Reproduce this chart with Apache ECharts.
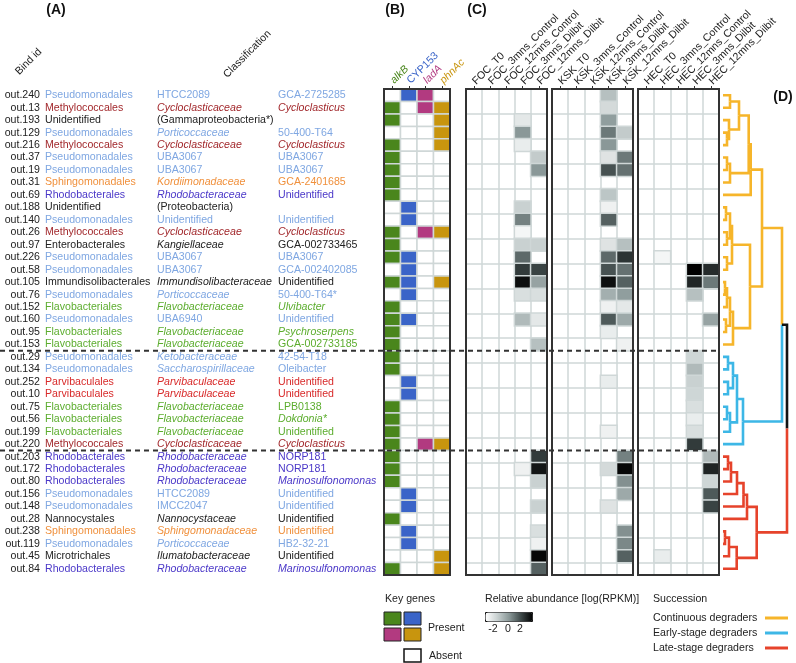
<!DOCTYPE html>
<html>
<head>
<meta charset="utf-8">
<title>Key genes, abundance and succession of MAGs</title>
<script src="https://cdn.jsdelivr.net/npm/echarts@6/dist/echarts.min.js"></script>
<style>
  html, body { margin: 0; padding: 0; background: #fff; }
  #chart { width: 796px; height: 663px; }
</style>
</head>
<body>
<div id="chart"></div>
<script>
// ---- data (rows top to bottom) ----
const binIds = ['out.240','out.13','out.193','out.129','out.216','out.37','out.19','out.31','out.69','out.188',
  'out.140','out.26','out.97','out.226','out.58','out.105','out.76','out.152','out.160','out.95','out.153',
  'out.29','out.134','out.252','out.10','out.75','out.56','out.199','out.220',
  'out.203','out.172','out.80','out.156','out.148','out.28','out.238','out.119','out.45','out.84']

const orders = ['Pseudomonadales','Methylococcales','Unidentified','Pseudomonadales','Methylococcales',
  'Pseudomonadales','Pseudomonadales','Sphingomonadales','Rhodobacterales','Unidentified','Pseudomonadales',
  'Methylococcales','Enterobacterales','Pseudomonadales','Pseudomonadales','Immundisolibacterales',
  'Pseudomonadales','Flavobacteriales','Pseudomonadales','Flavobacteriales','Flavobacteriales',
  'Pseudomonadales','Pseudomonadales','Parvibaculales','Parvibaculales','Flavobacteriales','Flavobacteriales',
  'Flavobacteriales','Methylococcales','Rhodobacterales','Rhodobacterales','Rhodobacterales','Pseudomonadales',
  'Pseudomonadales','Nannocystales','Sphingomonadales','Pseudomonadales','Microtrichales','Rhodobacterales']

const families = ['HTCC2089','Cycloclasticaceae','(Gammaproteobacteria*)','Porticoccaceae','Cycloclasticaceae',
  'UBA3067','UBA3067','Kordiimonadaceae','Rhodobacteraceae','(Proteobacteria)','Unidentified','Cycloclasticaceae',
  'Kangiellaceae','UBA3067','UBA3067','Immundisolibacteraceae','Porticoccaceae','Flavobacteriaceae','UBA6940',
  'Flavobacteriaceae','Flavobacteriaceae','Ketobacteraceae','Saccharospirillaceae','Parvibaculaceae',
  'Parvibaculaceae','Flavobacteriaceae','Flavobacteriaceae','Flavobacteriaceae','Cycloclasticaceae',
  'Rhodobacteraceae','Rhodobacteraceae','Rhodobacteraceae','HTCC2089','IMCC2047','Nannocystaceae',
  'Sphingomonadaceae','Porticoccaceae','Ilumatobacteraceae','Rhodobacteraceae']

const genera = ['GCA-2725285','Cycloclasticus','','50-400-T64','Cycloclasticus','UBA3067','UBA3067',
  'GCA-2401685','Unidentified','','Unidentified','Cycloclasticus','GCA-002733465','UBA3067','GCA-002402085',
  'Unidentified','50-400-T64*','Ulvibacter','Unidentified','Psychroserpens','GCA-002733185','42-54-T18',
  'Oleibacter','Unidentified','Unidentified','LPB0138','Dokdonia*','Unidentified','Cycloclasticus',
  'NORP181','NORP181','Marinosulfonomonas','Unidentified','Unidentified','Unidentified','Unidentified',
  'HB2-32-21','Unidentified','Marinosulfonomonas']

const italicGenera = ['Cycloclasticus','Ulvibacter','Psychroserpens','Dokdonia*','Marinosulfonomonas']

// key genes, 1 = present
const geneNames = ['alkB','CYP153','ladA','phnAc']
const alkB   = [0,1,1,0,1,1,1,1,1,0, 0,1,1,1,0,1,0,1,1,1, 1,1,1,0,0,1,1,1,1,1, 1,1,0,0,1,0,0,0,1]
const CYP153 = [1,0,0,0,0,0,0,0,0,1, 1,0,0,1,1,1,1,0,1,0, 0,0,0,1,1,0,0,0,0,0, 0,0,1,1,0,1,1,0,0]
const ladA   = [1,1,0,0,0,0,0,0,0,0, 0,1,0,0,0,0,0,0,0,0, 0,0,0,0,0,0,0,0,1,0, 0,0,0,0,0,0,0,0,0]
const phnAc  = [0,1,1,1,1,0,0,0,0,0, 0,1,0,0,0,1,0,0,0,0, 0,0,0,0,0,0,0,0,1,0, 0,0,0,0,0,0,0,1,1]

// relative abundance log(RPKM), sparse [row, sample, value]; blank cells not listed
const treatments = ['T0','3mns_Control','12mns_Control','3mns_Dilbit','12mns_Dilbit']
const sites = ['FOC','KSK','HEC']
const focValues = [[2,3,-1.5],[3,3,0],[4,3,-1.6],[5,4,-0.9],[6,4,0],[9,3,-1.0],[10,3,0.3],[11,3,-1.8],
  [12,3,-1.0],[12,4,-1.0],[13,3,0.6],[14,3,1.2],[14,4,1.1],[15,3,1.8],[15,4,-0.2],[16,3,-1.3],[16,4,-1.3],
  [18,3,-0.6],[18,4,-1.5],[20,4,-0.7],[29,4,1.2],[30,3,-1.7],[30,4,1.7],[31,4,-1.0],[33,4,-1.0],
  [35,4,-1.3],[36,4,-1.7],[37,4,1.9],[38,4,0.7]]
const kskValues = [[0,3,-0.7],[1,3,-1.2],[2,3,-0.1],[3,3,0.4],[3,4,-0.9],[4,3,0],[5,3,-1.4],[5,4,0.4],
  [6,3,0.9],[6,4,0.5],[8,3,-0.8],[9,3,-1.7],[10,3,0.7],[12,3,-1.4],[12,4,-0.7],[13,3,0.6],[13,4,1.3],
  [14,3,0.9],[14,4,0.5],[15,3,1.8],[15,4,0.7],[16,3,-0.4],[16,4,-0.1],[17,3,-1.7],[17,4,-1.5],[18,3,0.8],
  [18,4,-0.3],[19,3,-1.6],[20,4,-1.7],[23,3,-1.6],[27,3,-1.7],[29,4,0.3],[30,3,-1.2],[30,4,1.9],
  [31,4,0.1],[32,4,-0.3],[33,3,-1.4],[35,4,0.1],[36,4,0.2],[37,4,0.7]]
const hecValues = [[13,1,-1.8],[14,3,2.0],[14,4,1.4],[15,3,1.5],[15,4,0.4],[16,3,-0.7],[18,4,-0.2],
  [21,3,-1.1],[22,3,-0.6],[23,3,-1.0],[24,3,-1.1],[25,3,-1.3],[26,3,-1.6],[27,3,-1.3],[28,3,1.2],
  [29,4,-0.6],[30,4,1.5],[31,4,-1.1],[32,4,0.8],[33,4,1.1],[37,1,-1.6]]

// succession group per row: 0 continuous, 1 early-stage, 2 late-stage
const succession = [0,0,0,0,0,0,0,0,0,0, 0,0,0,0,0,0,0,0,0,0, 0,1,1,1,1,1,1,1,1,2, 2,2,2,2,2,2,2,2,2]
const successionNames = ['Continuous degraders','Early-stage degraders','Late-stage degraders']

// dendrogram merges [nodeA, nodeB, height]; leaves are 0..38, merge k becomes node 39+k
const treeMerges = [
  [0,1,7],[3,4,4],[2,40,6],[39,41,16],[5,6,4],[43,7,7],[42,44,25.7],[45,8,27.7],
  [9,10,3],[11,12,4],[47,48,7],[13,14,4],[49,50,9],[15,16,2],[52,17,4],[18,19,3],[53,54,7],[55,20,10],
  [51,56,27],[46,57,39],
  [21,22,5],[23,24,5],[59,60,10],[25,26,4],[62,27,7],[61,63,14],[64,28,20],
  [58,65,59],
  [29,30,5],[67,31,8],[68,32,14],[69,33,20.5],[70,34,24],[35,36,2],[72,37,6],[73,38,13.7],[71,74,33.7],
  [66,75,64]
]

// ---- styles ----
const FONT = "'Liberation Sans', Arial, sans-serif"
const orderColors = {
  Pseudomonadales: '#7fa7e2',
  Methylococcales: '#a2282c',
  Sphingomonadales: '#f0903c',
  Rhodobacterales: '#4a37c8',
  Flavobacteriales: '#5cad2e',
  Parvibaculales: '#d82a2a'
}
const geneColors = { alkB: '#4a861c', CYP153: '#3a64c8', ladA: '#b23a80', phnAc: '#c8950e' }
const groupColors = ['#f6b52a', '#3db7e6', '#e6432b', '#111111']
const cellLine = '#cfd7d7'

const nRows = binIds.length
const rowCats = binIds.map((d, i) => String(i))

// dendrogram edges: [parentHeight, parentY, childY, childHeight, colorIndex]
const nodes = binIds.map((d, i) => ({ h: 0, y: i + 0.5, g: succession[i] }))
const treeEdges = []
treeMerges.forEach(([a, b, h]) => {
  const A = nodes[a], B = nodes[b]
  const y = (A.y + B.y) / 2
  treeEdges.push([h, y, A.y, A.h, A.g], [h, y, B.y, B.h, B.g])
  nodes.push({ h: h, y: y, g: A.g === B.g ? A.g : 3 })
})

const genePresence = [alkB, CYP153, ladA, phnAc]
const geneCells = []
genePresence.forEach((arr, g) => arr.forEach((v, r) => geneCells.push([g, r, v])))

function txt(x, y, text, color, italic, align, size, bold) {
  return {
    type: 'text', x: x, y: y,
    style: {
      text: text, fill: color, fontSize: size || 10.6, fontFamily: FONT,
      fontStyle: italic ? 'italic' : 'normal', fontWeight: bold ? 'bold' : 'normal',
      align: align, verticalAlign: 'middle'
    }
  }
}

function topCategoryAxis(gridIndex, data, label) {
  return {
    type: 'category', gridIndex: gridIndex, data: data, position: 'top',
    axisLine: { show: false },
    axisTick: { show: true, alignWithLabel: true, length: 3, lineStyle: { color: '#333', width: 1 } },
    axisLabel: Object.assign({ interval: 0, rotate: -45, margin: 6, fontSize: 10.6, fontFamily: FONT, color: '#222' }, label),
    splitLine: { show: true, lineStyle: { color: cellLine, width: 1.5 } }
  }
}
function rowAxis(gridIndex) {
  return {
    type: 'category', gridIndex: gridIndex, data: rowCats, inverse: true,
    axisLine: { show: false }, axisTick: { show: false }, axisLabel: { show: false },
    splitLine: { show: true, lineStyle: { color: cellLine, width: 1.5 } }
  }
}
function frameSeries(gridIndex) {
  return {
    type: 'custom', xAxisIndex: gridIndex, yAxisIndex: gridIndex, z: 6, silent: true,
    data: [[0, 0]],
    renderItem: (params) => {
      const c = params.coordSys
      return { type: 'rect', shape: { x: c.x, y: c.y, width: c.width, height: c.height },
        style: { fill: 'none', stroke: '#333', lineWidth: 2 } }
    }
  }
}

const geneRich = {}
geneNames.forEach(g => {
  geneRich[g] = { color: geneColors[g], fontSize: 10.6, fontFamily: FONT, fontStyle: g === 'CYP153' ? 'normal' : 'italic' }
})

const heatLefts = [466, 552, 638]
const heatData = [focValues, kskValues, hecValues]

const option = {
  animation: false,
  backgroundColor: '#fff',
  grid: [
    { left: 0, top: 89, width: 722, height: 486 },          // table + separators
    { left: 384, top: 89, width: 66, height: 486 },         // key genes
    { left: heatLefts[0], top: 89, width: 81, height: 486 },
    { left: heatLefts[1], top: 89, width: 81, height: 486 },
    { left: heatLefts[2], top: 89, width: 81, height: 486 },
    { left: 723, top: 89, width: 67, height: 486 }          // dendrogram
  ],
  xAxis: [
    { type: 'value', gridIndex: 0, min: 0, max: 722, show: false },
    topCategoryAxis(1, geneNames, { formatter: v => '{' + v + '|' + v + '}', rich: geneRich, margin: 7 }),
    topCategoryAxis(2, treatments.map(t => sites[0] + '_' + t), {}),
    topCategoryAxis(3, treatments.map(t => sites[1] + '_' + t), {}),
    topCategoryAxis(4, treatments.map(t => sites[2] + '_' + t), {}),
    { type: 'value', gridIndex: 5, min: 0, max: 67, show: false }
  ],
  yAxis: [
    { type: 'value', gridIndex: 0, min: 0, max: nRows, inverse: true, show: false },
    rowAxis(1), rowAxis(2), rowAxis(3), rowAxis(4),
    { type: 'value', gridIndex: 5, min: 0, max: nRows, inverse: true, show: false }
  ],
  visualMap: {
    type: 'continuous', min: -2, max: 2, seriesIndex: [1, 2, 3],
    orient: 'horizontal', left: 485, top: 612, itemWidth: 9, itemHeight: 47,
    calculable: false, padding: 0, text: null, showLabel: false,
    borderColor: '#111', borderWidth: 1,
    inRange: { color: ['#ffffff', '#c9d1d1', '#8a9898', '#3f4a4a', '#000000'] }
  },
  series: [
    {
      // key genes matrix
      type: 'custom', xAxisIndex: 1, yAxisIndex: 1, z: 3, silent: true,
      data: geneCells,
      renderItem: (params, api) => {
        const p = api.coord([api.value(0), api.value(1)])
        const s = api.size([1, 1])
        const present = api.value(2) === 1
        return { type: 'rect',
          shape: { x: p[0] - s[0] / 2, y: p[1] - s[1] / 2, width: s[0], height: s[1] },
          style: { fill: present ? geneColors[geneNames[api.value(0)]] : '#fff', stroke: cellLine, lineWidth: 1.5 } }
      }
    },
    ...heatData.map((d, k) => ({
      type: 'heatmap', xAxisIndex: 2 + k, yAxisIndex: 2 + k, z: 3, silent: true,
      data: d.map(([r, c, v]) => [c, r, v]),
      itemStyle: { borderColor: cellLine, borderWidth: 1.5 },
      emphasis: { disabled: true }
    })),
    frameSeries(1), frameSeries(2), frameSeries(3), frameSeries(4),
    {
      // classification table
      type: 'custom', xAxisIndex: 0, yAxisIndex: 0, z: 4, silent: true,
      data: binIds.map((d, i) => [i]),
      renderItem: (params, api) => {
        const i = api.value(0)
        const y = api.coord([0, i + 0.5])[1]
        const x = v => api.coord([v, 0])[0]
        const color = orderColors[orders[i]] || '#222'
        const fam = families[i]
        const gen = genera[i]
        return { type: 'group', children: [
          txt(x(40), y, binIds[i], '#222', false, 'right'),
          txt(x(45), y, orders[i], color, false, 'left'),
          txt(x(157), y, fam, fam.startsWith('(') ? '#222' : color, fam.endsWith('aceae'), 'left'),
          txt(x(278), y, gen, color, italicGenera.includes(gen), 'left')
        ] }
      }
    },
    {
      // dashed separators between succession groups
      type: 'custom', xAxisIndex: 0, yAxisIndex: 0, z: 10, silent: true,
      data: [[21], [29]],
      renderItem: (params, api) => {
        const a = api.coord([0, api.value(0)])
        const b = api.coord([720, api.value(0)])
        return { type: 'line', shape: { x1: a[0], y1: a[1], x2: b[0], y2: b[1] },
          style: { stroke: '#333', lineWidth: 2, lineDash: [5, 4] } }
      }
    },
    {
      // dendrogram
      type: 'custom', xAxisIndex: 5, yAxisIndex: 5, z: 4, silent: true,
      data: treeEdges,
      renderItem: (params, api) => {
        const hp = api.value(0), yp = api.value(1), yc = api.value(2), hc = api.value(3)
        const pts = [api.coord([hp, yp]), api.coord([hp, yc]), api.coord([hc, yc])]
        return { type: 'polyline', shape: { points: pts },
          style: { stroke: groupColors[api.value(4)], lineWidth: 2.6, fill: null, lineJoin: 'miter' } }
      }
    }
  ],
  graphic: [
    txt(56, 10, '(A)', '#111', false, 'center', 14, true),
    txt(395, 10, '(B)', '#111', false, 'center', 14, true),
    txt(477, 10, '(C)', '#111', false, 'center', 14, true),
    txt(783, 97, '(D)', '#111', false, 'center', 14, true),
    { type: 'text', x: 21, y: 77, rotation: Math.PI / 4,
      style: { text: 'Bind id', fill: '#222', fontSize: 10.6, fontFamily: FONT, align: 'left', verticalAlign: 'bottom' } },
    { type: 'text', x: 229, y: 80, rotation: Math.PI / 4,
      style: { text: 'Classification', fill: '#222', fontSize: 10.6, fontFamily: FONT, align: 'left', verticalAlign: 'bottom' } },
    // key genes legend
    txt(385, 599, 'Key genes', '#222', false, 'left'),
    { type: 'rect', shape: { x: 384, y: 612, width: 17, height: 13 }, style: { fill: geneColors.alkB, stroke: '#222', lineWidth: 1 } },
    { type: 'rect', shape: { x: 404, y: 612, width: 17, height: 13 }, style: { fill: geneColors.CYP153, stroke: '#222', lineWidth: 1 } },
    { type: 'rect', shape: { x: 384, y: 628, width: 17, height: 13 }, style: { fill: geneColors.ladA, stroke: '#222', lineWidth: 1 } },
    { type: 'rect', shape: { x: 404, y: 628, width: 17, height: 13 }, style: { fill: geneColors.phnAc, stroke: '#222', lineWidth: 1 } },
    txt(428, 628, 'Present', '#222', false, 'left'),
    { type: 'rect', shape: { x: 404, y: 649, width: 17, height: 13 }, style: { fill: '#fff', stroke: '#111', lineWidth: 1.5 } },
    txt(429, 656, 'Absent', '#222', false, 'left'),
    // abundance legend
    txt(485, 599, 'Relative abundance [log(RPKM)]', '#222', false, 'left'),
    txt(493, 629, '-2', '#222', false, 'center'),
    txt(508, 629, '0', '#222', false, 'center'),
    txt(520, 629, '2', '#222', false, 'center'),
    // succession legend
    txt(653, 599, 'Succession', '#222', false, 'left'),
    ...successionNames.map((n, k) => txt(653, 618.5 + k * 15, n, '#222', false, 'left')),
    ...successionNames.map((n, k) => ({ type: 'line',
      shape: { x1: 765, y1: 618 + k * 15, x2: 788, y2: 618 + k * 15 },
      style: { stroke: groupColors[k], lineWidth: 3 } }))
  ]
}

const chart = echarts.init(document.getElementById('chart'), null, { renderer: 'canvas' })
chart.setOption(option)
</script>
</body>
</html>
